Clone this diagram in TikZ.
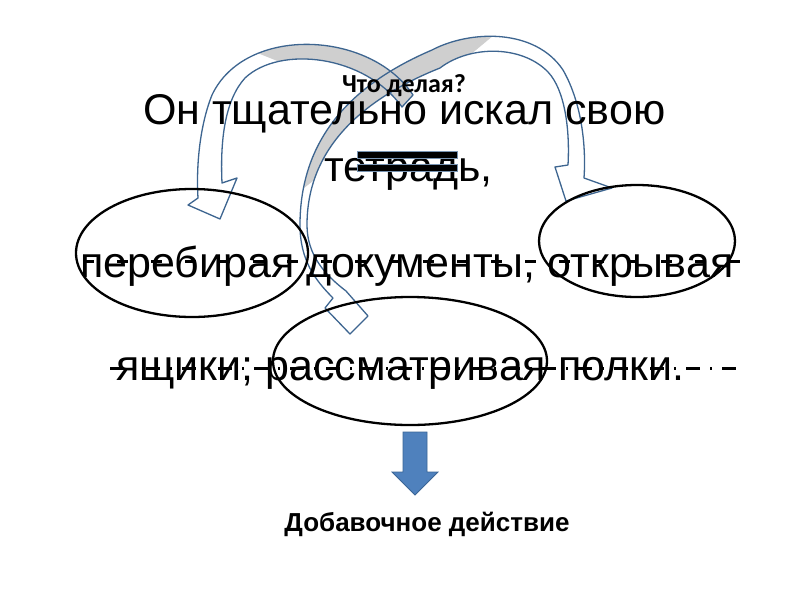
\documentclass[tikz,border=0pt]{standalone}
\usepackage{fontspec}
\setmainfont{Liberation Sans}
\newfontfamily\calibrifont{Carlito}
\usetikzlibrary{shapes.geometric}
\definecolor{bandline}{HTML}{3D6590}
\definecolor{bandgreyc}{HTML}{CFCFCF}
\definecolor{arrowblue}{HTML}{4F81BD}
\definecolor{arrowedge}{HTML}{3A6596}
\begin{document}
\begin{tikzpicture}[x=1pt,y=-1pt,
  bandedge/.style={draw=bandline, line width=1.3pt, line join=round},
  oval/.style={draw=black, line width=2.3pt, ellipse, inner sep=0pt},
  bigtext/.style={font=\fontsize{43}{50}\selectfont, inner sep=0pt, anchor=base west},
  markline/.style={draw=black, line width=3pt},
  barbox/.style={fill=black, draw=bandline!70, line width=0.7pt},
]
\useasboundingbox[fill=white] (0,0) rectangle (800,600);

% long band: bottom ellipse -> up -> right ellipse
\path[save path=\bandBC]
  (333,298) .. controls (315,280) and (300,260) .. (300,225)
  .. controls (300,140) and (350,85) .. (432,50)
  .. controls (470,30) and (535,28) .. (563,70)
  .. controls (583,105) and (586,150) .. (584,178)
  -- (612,188) -- (566,201) -- (555,167) -- (568,165)
  .. controls (570,130) and (565,90) .. (548,72)
  .. controls (522,45) and (470,45) .. (440,68)
  .. controls (360,100) and (307,150) .. (307,225)
  .. controls (307,255) and (325,275) .. (346,291)
  -- (368,316) -- (350,334) -- (325,308) -- cycle;
% left band: centre -> left ellipse
\path[save path=\bandA]
  (413,95) .. controls (370,30) and (245,25) .. (212,95)
  .. controls (200,125) and (196,165) .. (198,198)
  -- (188,205) -- (220,219) -- (237,178) -- (222,183)
  .. controls (220,140) and (225,100) .. (245,78)
  .. controls (280,45) and (365,55) .. (402,107) -- cycle;

\fill[white, use path=\bandBC];
\begin{scope}
  \clip (0,0) -- (500,0) -- (500,30) -- (440,80) -- (340,160) -- (295,195) -- (0,195) -- cycle;
  \fill[bandgreyc, use path=\bandBC];
\end{scope}
\fill[white, use path=\bandA];
\begin{scope}
  \clip (250,50) -- (300,70) -- (440,130) -- (440,0) -- (250,0) -- cycle;
  \fill[bandgreyc, use path=\bandA];
\end{scope}
\path[bandedge, use path=\bandBC];
\path[bandedge, use path=\bandA];

% texts
\node[font=\calibrifont\bfseries\fontsize{26}{30}\selectfont, anchor=base, inner sep=0pt] (q) at (404,92) {Что делая?};
\node[bigtext] (l1) at (143,124) {Он тщательно искал свою};
\node[bigtext] (l2) at (324,181) {тетрадь,};
\node[bigtext] (l3) at (80,277) {перебирая документы, открывая};
\node[bigtext] (l4) at (116,380) {ящики; рассматривая полки.};

% marks
\draw[barbox] (357,151) rectangle (457,158);
\draw[barbox] (357,164) rectangle (457,171);
\draw[markline, dash pattern=on 11pt off 23pt] (83,261) -- (745,261);
\draw[markline, dash pattern=on 14pt off 10pt on 2pt off 10pt] (110,368) -- (737,368);

% ellipses
\node[oval, minimum width=232pt, minimum height=128pt] (eleft) at (192,253) {};
\node[oval, minimum width=196pt, minimum height=112pt] (eright) at (637,241) {};
\node[oval, minimum width=274pt, minimum height=128pt] (ebottom) at (410,361) {};

% block arrow down
\draw[fill=arrowblue, draw=arrowedge, line width=0.8pt]
  (403,432) -- (427,432) -- (427,472) -- (438,472) -- (415,495) -- (392,472) -- (403,472) -- cycle;
\node[font=\bfseries\fontsize{26}{30}\selectfont, anchor=base, inner sep=0pt] (add) at (427,531) {Добавочное действие};
\end{tikzpicture}
\end{document}
